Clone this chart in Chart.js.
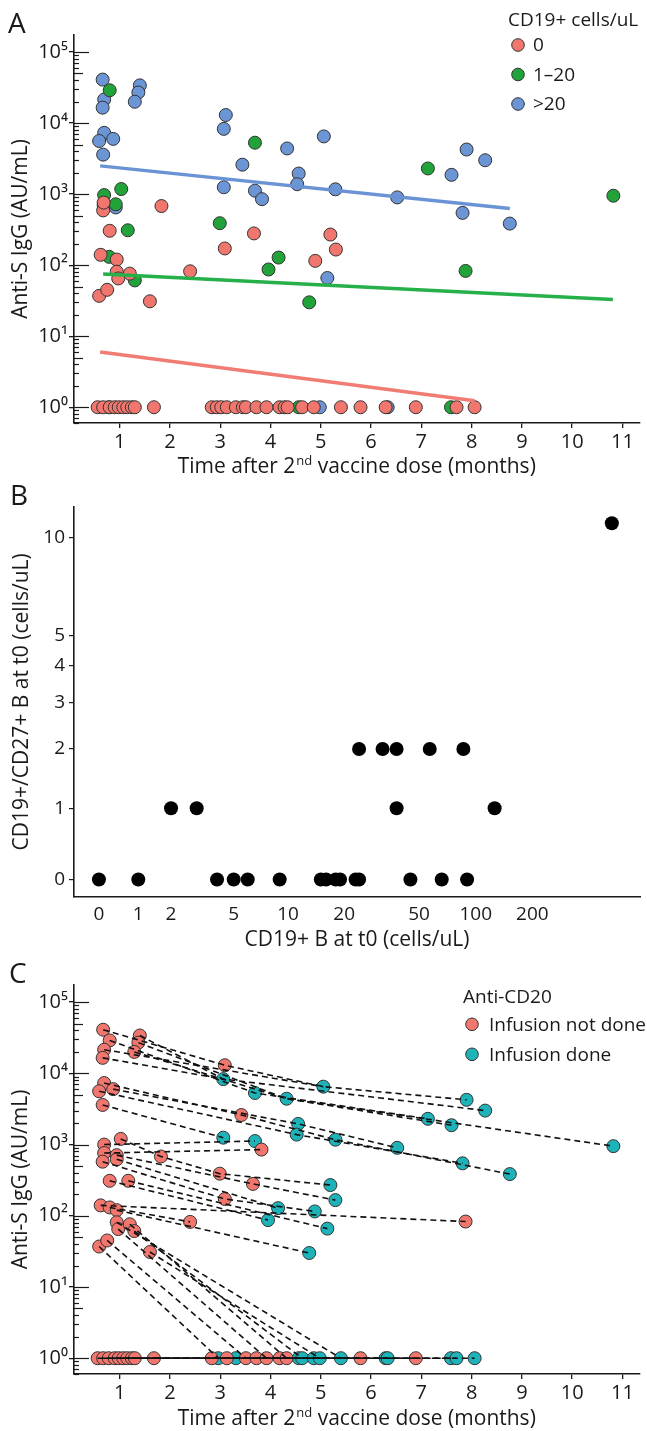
<!DOCTYPE html>
<html>
<head>
<meta charset="utf-8">
<script src="https://cdn.jsdelivr.net/npm/chart.js@4.4.1/dist/chart.umd.min.js"></script>
<style>
  html, body { margin: 0; padding: 0; background: #fff; }
  body { position: relative; width: 647px; height: 1431px; }
  canvas { position: absolute; left: 0; display: block; }
</style>
</head>
<body>
<canvas id="panelA" width="647" height="480" style="top:0px"></canvas>
<canvas id="panelB" width="647" height="470" style="top:480px"></canvas>
<canvas id="panelC" width="647" height="481" style="top:950px"></canvas>
<script>
// ---- panel A: anti-S IgG vs time, coloured by CD19+ count ----
const cd19Zero = [
  [0.67,590],[0.68,760],[1.83,680],[0.80,305],[0.62,140],[0.94,120],[0.94,81],[0.97,65],
  [1.20,76],[0.59,37],[0.75,45],[1.60,31],[2.40,82],[3.09,172],[3.67,280],[4.89,115],
  [5.19,270],[5.30,166],
  [0.56,1],[0.67,1],[0.80,1],[0.90,1],[0.98,1],[1.07,1],[1.15,1],[1.24,1],[1.30,1],[1.68,1],
  [2.83,1],[2.93,1],[3.02,1],[3.13,1],[3.31,1],[3.45,1],[3.51,1],[3.72,1],[3.92,1],[4.18,1],
  [4.28,1],[4.34,1],[4.63,1],[4.86,1],[5.40,1],[5.79,1],[6.29,1],[6.89,1],[7.70,1],[8.06,1]
];
const cd19Low = [
  [0.80,29000],[3.69,5300],[1.03,1180],[0.69,970],[0.92,720],[2.99,390],[1.16,310],[0.79,131],
  [1.30,61],[4.16,128],[3.96,87],[4.77,30],[7.88,83],[7.13,2300],[10.82,950],
  [0.78,1],[4.56,1],[7.59,1]
];
const cd19High = [
  [0.66,41000],[0.69,21500],[0.66,16500],[0.69,7300],[0.59,5600],[0.87,6000],[0.67,3600],
  [1.40,34000],[1.37,27000],[1.30,20000],[3.11,13000],[3.07,8300],[3.44,2600],[4.33,4400],
  [4.56,1950],[4.53,1380],[3.07,1250],[3.69,1120],[3.83,850],[5.06,6500],[0.92,650],[0.68,700],
  [7.90,4250],[8.27,3000],[7.60,1870],[5.29,1170],[6.52,900],[7.82,545],[8.76,385],[5.13,66],
  [4.98,1],[6.33,1]
];
const trendZero = [[0.61,6.0],[8.06,1.23]];
const trendLow = [[0.67,75],[10.81,33]];
const trendHigh = [[0.61,2500],[8.76,630]];

// ---- panel B: CD19+/CD27+ vs CD19+ at t0 ----
const bCD19 = [0,1,4,5,6,9,15,16,18,19,23,24,45,66,90, 2,3,38,126, 24,32,38,57,86, 528];
const bCD27 = [0,0,0,0,0,0,0,0,0,0,0,0,0,0,0, 1,1,1,1, 2,2,2,2,2, 11];
const bTicksX = [0,1,2,5,10,20,50,100,200];
const bTicksY = [0,1,2,3,4,5,10];

// ---- panel C: same samples, coloured by anti-CD20 infusion, joined per patient ----
const infusionNotDone = [
  [0.67,41000],[0.80,29000],[0.69,21500],[0.66,16500],[1.40,34000],[1.37,27000],[1.29,20000],
  [0.69,7300],[0.59,5600],[0.87,6000],[0.66,3600],[1.02,1200],[0.69,1000],[0.69,760],[0.94,710],
  [0.66,575],[0.94,620],[1.82,680],[0.80,310],[1.17,310],[0.62,140],[0.80,131],[0.94,120],
  [0.94,81],[0.97,65],[1.20,76],[1.29,61],[0.59,37],[0.75,45],[1.60,31],[2.40,82],
  [3.09,13000],[3.42,2600],[3.82,850],[2.99,390],[3.65,280],[3.09,172],[7.88,83],
  [0.56,1],[0.67,1],[0.78,1],[0.90,1],[0.98,1],[1.07,1],[1.15,1],[1.24,1],[1.30,1],[1.68,1],
  [2.83,1],[3.13,1],[3.51,1],[3.72,1],[3.92,1],[4.18,1],[4.32,1],[5.79,1],[6.89,1]
];
const infusionDone = [
  [3.06,8300],[3.69,5300],[4.32,4400],[5.05,6500],[4.55,1950],[4.52,1380],[3.06,1250],[3.69,1120],
  [7.90,4250],[8.27,3000],[7.13,2300],[7.60,1870],[5.29,1170],[6.52,900],[7.82,545],[8.76,385],
  [10.82,950],[5.19,270],[5.29,166],[4.15,128],[4.88,115],[3.95,87],[5.13,66],[4.77,30],
  [2.96,1],[3.31,1],[4.56,1],[4.63,1],[4.86,1],[4.98,1],[5.40,1],[6.29,1],[6.33,1],[7.59,1],[7.70,1],[8.06,1]
];
const patientPaths = [
  [[0.67,41000],[3.09,13000],[5.05,6500],[7.90,4250]],
  [[1.40,34000],[3.06,8300],[8.27,3000]],
  [[0.80,29000],[3.69,5300],[7.13,2300]],
  [[1.37,27000],[4.32,4400],[7.60,1870]],
  [[0.69,21500],[5.05,6500]],
  [[1.29,20000],[4.32,4400],[10.82,950]],
  [[0.66,16500],[3.06,8300]],
  [[0.69,7300],[3.42,2600],[5.29,1170],[8.76,385]],
  [[0.87,6000],[4.55,1950],[6.52,900]],
  [[0.59,5600],[4.52,1380],[7.82,545]],
  [[0.66,3600],[3.06,1250]],
  [[1.02,1200],[1.82,680],[2.99,390],[5.19,270]],
  [[0.69,1000],[3.69,1120]],
  [[0.69,760],[3.82,850]],
  [[0.94,710],[3.65,280],[5.29,166]],
  [[0.66,575],[3.09,172],[4.88,115]],
  [[0.94,620],[4.15,128]],
  [[0.80,310],[3.95,87]],
  [[1.17,310],[5.13,66]],
  [[0.62,140],[7.88,83]],
  [[0.80,131],[2.40,82]],
  [[0.94,120],[4.77,30]],
  [[0.59,37],[2.96,1]],
  [[0.75,45],[3.51,1]],
  [[0.97,65],[3.92,1]],
  [[1.20,76],[4.32,1]],
  [[1.29,61],[4.63,1]],
  [[1.60,31],[4.98,1]],
  [[0.94,81],[5.40,1]],
  [[0.56,1],[2.83,1],[5.79,1]],
  [[0.67,1],[3.13,1],[6.29,1]],
  [[0.78,1],[3.31,1],[6.89,1]],
  [[0.90,1],[3.72,1],[7.59,1]],
  [[1.07,1],[4.18,1],[7.70,1]],
  [[1.24,1],[4.56,1],[8.06,1]],
  [[1.68,1],[4.86,1],[6.33,1]]
];

const monthTicks = [1,2,3,4,5,6,7,8,9,10,11];
const decadeTicks = [1,10,100,1000,10000,100000];

// ---- styling ----
const FONT = "'Open Sans', 'Noto Sans', sans-serif";
const INK = '#1a1a1a';
const RED = '#F1766D', GREEN = '#22A33A', BLUE = '#6C95D6', TEAL = '#1DB3B8';
const SUP = ['⁰','¹','²','³','⁴','⁵'];

Chart.defaults.font.family = FONT;
Chart.defaults.font.size = 20;
Chart.defaults.color = INK;

const toXY = arr => arr.map(([x, y]) => ({ x, y }));

// pseudo-log axis (asinh(v/2)) used by panel B
class PseudoLogScale extends Chart.Scale {
  static id = 'pseudolog';
  static defaults = {};
  determineDataLimits() {
    const { min, max } = this.getMinMax(true);
    this.min = min;
    this.max = max;
  }
  buildTicks() {
    const vals = this.axis === 'x' ? bTicksX : bTicksY;
    return vals.map(value => ({ value }));
  }
  configure() {
    super.configure();
    this._t0 = Math.asinh(this.min / 2);
    this._tr = Math.asinh(this.max / 2) - this._t0;
  }
  getLabelForValue(v) { return String(v); }
  getPixelForValue(v) {
    return this.getPixelForDecimal((Math.asinh(v / 2) - this._t0) / this._tr);
  }
  getValueForPixel(p) {
    return 2 * Math.sinh(this._t0 + this.getDecimalForPixel(p) * this._tr);
  }
}
Chart.register(PseudoLogScale);

const panelDecor = {
  panelA: {
    letter: 'A', letterX: 8, letterY: 33,
    yTitle: 'Anti-S IgG (AU/mL)', yTitleX: 27,
    xTitle: ['Time after 2', 'nd', ' vaccine dose (months)'], xTitleY: 473,
    logTicks: true,
    legend: { title: 'CD19+ cells/uL', x: 508, y: 26, cx: 518, cy: [45, 74.5, 104], tx: 533,
              items: [['0', RED], ['1–20', GREEN], ['>20', BLUE]] }
  },
  panelB: {
    letter: 'B', letterX: 10, letterY: 25,
    yTitle: 'CD19+/CD27+ B at t0 (cells/uL)', yTitleX: 28,
    xTitle: ['CD19+ B at t0 (cells/uL)'], xTitleY: 466
  },
  panelC: {
    letter: 'C', letterX: 9, letterY: 33,
    yTitle: 'Anti-S IgG (AU/mL)', yTitleX: 27,
    xTitle: ['Time after 2', 'nd', ' vaccine dose (months)'], xTitleY: 475,
    logTicks: true,
    legend: { title: 'Anti-CD20', x: 463, y: 53, cx: 472, cy: [74.3, 104.3], tx: 489,
              items: [['Infusion not done', RED], ['Infusion done', TEAL]] }
  }
};

const decorPlugin = {
  id: 'decor',
  afterDraw(chart) {
    const cfg = panelDecor[chart.canvas.id];
    const ctx = chart.ctx;
    const area = chart.chartArea;
    ctx.save();
    ctx.fillStyle = INK;
    ctx.strokeStyle = INK;
    ctx.textBaseline = 'alphabetic';

    // inside log ticks
    if (cfg.logTicks) {
      const ys = chart.scales.y;
      ctx.lineWidth = 1.2;
      for (let d = -1; d <= 5; d++) {
        for (let m = 1; m <= 9; m++) {
          const v = m * Math.pow(10, d);
          if (v < ys.min || v > ys.max) continue;
          const py = Math.round(ys.getPixelForValue(v)) + 0.5;
          const len = m === 1 ? 15 : (m === 5 ? 9 : 5);
          ctx.beginPath();
          ctx.moveTo(area.left, py);
          ctx.lineTo(area.left + len, py);
          ctx.stroke();
        }
      }
    }

    // panel letter
    ctx.font = `28px ${FONT}`;
    ctx.textAlign = 'left';
    ctx.fillText(cfg.letter, cfg.letterX, cfg.letterY);

    // y title
    ctx.save();
    ctx.font = `21px ${FONT}`;
    ctx.translate(cfg.yTitleX, (area.top + area.bottom) / 2);
    ctx.rotate(-Math.PI / 2);
    ctx.textAlign = 'center';
    ctx.fillText(cfg.yTitle, 0, 0);
    ctx.restore();

    // x title (with optional superscript part)
    const [p0, p1 = '', p2 = ''] = cfg.xTitle;
    ctx.font = `21px ${FONT}`;
    const w0 = ctx.measureText(p0).width, w2 = ctx.measureText(p2).width;
    ctx.font = `13px ${FONT}`;
    const w1 = p1 ? ctx.measureText(p1).width + 1 : 0;
    let x = (area.left + area.right) / 2 - (w0 + w1 + w2) / 2;
    ctx.textAlign = 'left';
    ctx.font = `21px ${FONT}`;
    ctx.fillText(p0, x, cfg.xTitleY);
    x += w0;
    if (p1) {
      ctx.font = `13px ${FONT}`;
      ctx.fillText(p1, x + 1, cfg.xTitleY - 8);
      x += w1;
    }
    ctx.font = `21px ${FONT}`;
    ctx.fillText(p2, x, cfg.xTitleY);

    // legend
    const lg = cfg.legend;
    if (lg) {
      ctx.font = `19px ${FONT}`;
      ctx.fillText(lg.title, lg.x, lg.y);
      lg.items.forEach(([label, color], i) => {
        ctx.beginPath();
        ctx.arc(lg.cx, lg.cy[i], 6.3, 0, Math.PI * 2);
        ctx.fillStyle = color;
        ctx.fill();
        ctx.lineWidth = 1;
        ctx.strokeStyle = '#333';
        ctx.stroke();
        ctx.fillStyle = INK;
        ctx.textBaseline = 'middle';
        ctx.fillText(label, lg.tx, lg.cy[i] + 1);
        ctx.textBaseline = 'alphabetic';
      });
    }
    ctx.restore();
  }
};

function monthAxis() {
  return {
    type: 'linear', min: 0.09, max: 11.34,
    afterBuildTicks: s => { s.ticks = monthTicks.map(value => ({ value })); },
    afterFit: s => { s.height = 57; },
    ticks: { padding: 2, autoSkip: false, maxRotation: 0, font: { size: 20 } },
    grid: { drawOnChartArea: false, tickLength: 5, color: INK, lineWidth: 1.3 },
    border: { color: INK, width: 1.6 }
  };
}
function iggAxis() {
  return {
    type: 'logarithmic', min: 0.6, max: 174000,
    afterBuildTicks: s => { s.ticks = decadeTicks.map(value => ({ value })); },
    afterFit: s => { s.width = 74; },
    ticks: { padding: 1, autoSkip: false, font: { size: 20 },
             callback: v => '10' + SUP[Math.round(Math.log10(v))] },
    grid: { drawOnChartArea: false, tickLength: 5, color: INK, lineWidth: 1.3 },
    border: { color: INK, width: 1.6 }
  };
}
function pointSet(label, data, color) {
  return { label, data: toXY(data), backgroundColor: color, borderColor: '#333',
           borderWidth: 1, pointRadius: 6.5, pointHoverRadius: 6.5 };
}
function trendLine(data, color) {
  return { data: toXY(data), showLine: true, borderColor: color, borderWidth: 3.5,
           pointRadius: 0, pointHoverRadius: 0, fill: false };
}
const common = {
  responsive: false,
  animation: false,
  events: [],
  plugins: { legend: { display: false }, tooltip: { enabled: false } }
};

// panel A
new Chart(document.getElementById('panelA'), {
  type: 'scatter',
  data: {
    datasets: [
      trendLine(trendZero, '#F07C73'),
      trendLine(trendLow, '#25B04A'),
      trendLine(trendHigh, '#6A93D6'),
      pointSet('0', cd19Zero, RED),
      pointSet('1–20', cd19Low, GREEN),
      pointSet('>20', cd19High, BLUE)
    ]
  },
  options: {
    ...common,
    layout: { padding: { top: 35, right: 7, left: 0, bottom: 0 } },
    scales: { x: monthAxis(), y: iggAxis() }
  },
  plugins: [decorPlugin]
});

// panel B
new Chart(document.getElementById('panelB'), {
  type: 'scatter',
  data: {
    datasets: [{
      data: bCD19.map((v, i) => ({ x: v, y: bCD27[i] })),
      backgroundColor: '#000', borderColor: '#000', borderWidth: 0,
      pointRadius: 7, pointHoverRadius: 7
    }]
  },
  options: {
    ...common,
    layout: { padding: { top: 27, right: 5, left: 0, bottom: 0 } },
    scales: {
      x: {
        type: 'pseudolog', min: -0.619, max: 745,
        afterFit: s => { s.height = 53.3; },
        ticks: { padding: 6, autoSkip: false, maxRotation: 0, font: { size: 19 } },
        grid: { display: false, drawOnChartArea: false, drawTicks: false },
        border: { color: INK, width: 1.6 }
      },
      y: {
        type: 'pseudolog', min: -0.232, max: 12.3,
        afterFit: s => { s.width = 74; },
        ticks: { padding: 4, autoSkip: false, font: { size: 19 } },
        grid: { drawOnChartArea: false, tickLength: 5, color: INK, lineWidth: 1.2 },
        border: { color: INK, width: 1.6 }
      }
    }
  },
  plugins: [decorPlugin]
});

// panel C
new Chart(document.getElementById('panelC'), {
  type: 'scatter',
  data: {
    datasets: [
      ...patientPaths.map(path => ({
        data: toXY(path), showLine: true, borderColor: '#111', borderWidth: 1.6,
        borderDash: [6, 4], pointRadius: 0, pointHoverRadius: 0, fill: false
      })),
      pointSet('Infusion not done', infusionNotDone, RED),
      pointSet('Infusion done', infusionDone, TEAL)
    ]
  },
  options: {
    ...common,
    layout: { padding: { top: 35, right: 7, left: 0, bottom: 0 } },
    scales: { x: monthAxis(), y: iggAxis() }
  },
  plugins: [decorPlugin]
});
</script>
</body>
</html>
